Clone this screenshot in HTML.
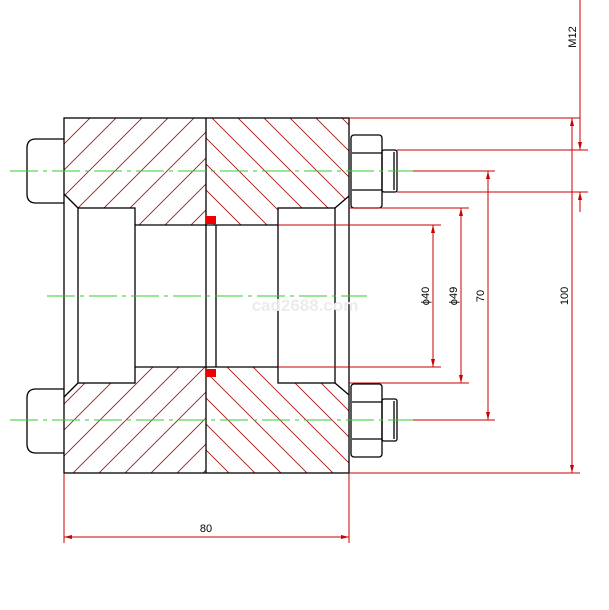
<!DOCTYPE html>
<html><head><style>html,body{margin:0;padding:0;background:#fff}svg{display:block}</style></head><body>
<svg width="609" height="610" viewBox="0 0 609 610" xmlns="http://www.w3.org/2000/svg" font-family="Liberation Sans, sans-serif">
<defs>
<clipPath id="cl"><polygon points="64,118 206,118 206,225 135,225 135,208 78,208 64,194"/><polygon points="64,473 206,473 206,367 135,367 135,383 78,383 64,397"/></clipPath>
<clipPath id="cr"><polygon points="206,118 349,118 349,196 335,208 278,208 278,225 206,225"/><polygon points="206,473 349,473 349,395 335,383 278,383 278,367 206,367"/></clipPath>
</defs>
<g clip-path="url(#cl)" stroke="#a01818" stroke-width="0.9">
<script>/* none */</script>
<line x1="-418" y1="600" x2="182" y2="0"/><line x1="-392" y1="600" x2="208" y2="0"/><line x1="-366" y1="600" x2="234" y2="0"/><line x1="-340" y1="600" x2="260" y2="0"/><line x1="-314" y1="600" x2="286" y2="0"/><line x1="-288" y1="600" x2="312" y2="0"/><line x1="-262" y1="600" x2="338" y2="0"/><line x1="-236" y1="600" x2="364" y2="0"/><line x1="-210" y1="600" x2="390" y2="0"/><line x1="-184" y1="600" x2="416" y2="0"/><line x1="-158" y1="600" x2="442" y2="0"/><line x1="-132" y1="600" x2="468" y2="0"/><line x1="-106" y1="600" x2="494" y2="0"/><line x1="-80" y1="600" x2="520" y2="0"/><line x1="-54" y1="600" x2="546" y2="0"/><line x1="-28" y1="600" x2="572" y2="0"/><line x1="-2" y1="600" x2="598" y2="0"/><line x1="24" y1="600" x2="624" y2="0"/><line x1="50" y1="600" x2="650" y2="0"/><line x1="76" y1="600" x2="676" y2="0"/><line x1="102" y1="600" x2="702" y2="0"/><line x1="128" y1="600" x2="728" y2="0"/><line x1="154" y1="600" x2="754" y2="0"/><line x1="180" y1="600" x2="780" y2="0"/>
</g>
<g clip-path="url(#cr)" stroke="#a01818" stroke-width="0.9">
<line x1="-400" y1="0" x2="200" y2="600"/><line x1="-374" y1="0" x2="226" y2="600"/><line x1="-348" y1="0" x2="252" y2="600"/><line x1="-322" y1="0" x2="278" y2="600"/><line x1="-296" y1="0" x2="304" y2="600"/><line x1="-270" y1="0" x2="330" y2="600"/><line x1="-244" y1="0" x2="356" y2="600"/><line x1="-218" y1="0" x2="382" y2="600"/><line x1="-192" y1="0" x2="408" y2="600"/><line x1="-166" y1="0" x2="434" y2="600"/><line x1="-140" y1="0" x2="460" y2="600"/><line x1="-114" y1="0" x2="486" y2="600"/><line x1="-88" y1="0" x2="512" y2="600"/><line x1="-62" y1="0" x2="538" y2="600"/><line x1="-36" y1="0" x2="564" y2="600"/><line x1="-10" y1="0" x2="590" y2="600"/><line x1="16" y1="0" x2="616" y2="600"/><line x1="42" y1="0" x2="642" y2="600"/><line x1="68" y1="0" x2="668" y2="600"/><line x1="94" y1="0" x2="694" y2="600"/><line x1="120" y1="0" x2="720" y2="600"/><line x1="146" y1="0" x2="746" y2="600"/><line x1="172" y1="0" x2="772" y2="600"/><line x1="198" y1="0" x2="798" y2="600"/><line x1="224" y1="0" x2="824" y2="600"/><line x1="250" y1="0" x2="850" y2="600"/><line x1="276" y1="0" x2="876" y2="600"/><line x1="302" y1="0" x2="902" y2="600"/><line x1="328" y1="0" x2="928" y2="600"/>
</g>
<g stroke="#000" stroke-width="1.3" fill="none">
<rect x="64" y="118" width="285" height="355"/>
<line x1="206" y1="118" x2="206" y2="473"/>
<line x1="216" y1="225" x2="216" y2="367"/>
<rect x="78" y="208" width="57" height="175"/>
<rect x="278" y="208" width="57" height="175"/>
<line x1="135" y1="225" x2="278" y2="225"/>
<line x1="135" y1="367" x2="278" y2="367"/>
<line x1="64" y1="194" x2="78" y2="208"/>
<line x1="64" y1="397" x2="78" y2="383"/>
<line x1="349" y1="196" x2="335" y2="208"/>
<line x1="349" y1="395" x2="335" y2="383"/>
<path d="M64,139 H36 Q27,139 27,148 V194 Q27,203 36,203 H64"/>
<path d="M64,389 H36 Q27,389 27,398 V444 Q27,453 36,453 H64"/>
<rect x="351" y="135" width="31" height="73" rx="3"/>
<line x1="352" y1="153" x2="382" y2="153"/><line x1="352" y1="190" x2="382" y2="190"/>
<rect x="382" y="150" width="15" height="42" rx="2"/><line x1="394" y1="152" x2="394" y2="190"/>
<rect x="351" y="384" width="31" height="73" rx="3"/>
<line x1="352" y1="402" x2="382" y2="402"/><line x1="352" y1="439" x2="382" y2="439"/>
<rect x="382" y="399" width="15" height="42" rx="2"/><line x1="394" y1="401" x2="394" y2="439"/>
</g>
<rect x="206" y="216" width="10" height="8" fill="#e00"/>
<rect x="206" y="369" width="10" height="8" fill="#e00"/>
<g stroke="#3c3" stroke-width="1" stroke-dasharray="28,5,4,5">
<line x1="10" y1="171" x2="413" y2="171"/>
<line x1="47" y1="296" x2="367" y2="296"/>
<line x1="10" y1="420" x2="413" y2="420"/>
</g>
<text x="305" y="311" font-size="17" font-weight="bold" fill="#ececec" text-anchor="middle">cad2688.com</text>
<g stroke="#c00" stroke-width="1" fill="none">
<line x1="349" y1="118" x2="580" y2="118"/>
<line x1="397" y1="150" x2="588" y2="150"/>
<line x1="397" y1="192" x2="588" y2="192"/>
<line x1="413" y1="171" x2="495" y2="171"/>
<line x1="349" y1="208" x2="469" y2="208"/>
<line x1="278" y1="225" x2="441" y2="225"/>
<line x1="278" y1="367" x2="441" y2="367"/>
<line x1="349" y1="383" x2="469" y2="383"/>
<line x1="413" y1="420" x2="495" y2="420"/>
<line x1="349" y1="473" x2="580" y2="473"/>
<line x1="433" y1="225" x2="433" y2="367"/>
<line x1="461" y1="208" x2="461" y2="383"/>
<line x1="488" y1="171" x2="488" y2="420"/>
<line x1="572" y1="118" x2="572" y2="473"/>
<line x1="580" y1="0" x2="580" y2="150"/>
<line x1="580" y1="192" x2="580" y2="212"/>
<line x1="64" y1="473" x2="64" y2="543"/>
<line x1="349" y1="473" x2="349" y2="543"/>
<line x1="64" y1="537" x2="349" y2="537"/>
</g>
<g fill="#c00">
<path d="M433,225 l-2,8 h4z"/><path d="M433,367 l-2,-8 h4z"/>
<path d="M461,208 l-2,8 h4z"/><path d="M461,383 l-2,-8 h4z"/>
<path d="M488,171 l-2,8 h4z"/><path d="M488,420 l-2,-8 h4z"/>
<path d="M572,118 l-2,8 h4z"/><path d="M572,473 l-2,-8 h4z"/>
<path d="M580,150 l-2,-8 h4z"/><path d="M580,192 l-2,8 h4z"/>
<path d="M64,537 l8,-2 v4z"/><path d="M349,537 l-8,-2 v4z"/>
</g>
<g font-size="11" fill="#000" text-anchor="middle">
<text transform="translate(429,296) rotate(-90)">ϕ40</text>
<text transform="translate(457,296) rotate(-90)">ϕ49</text>
<text transform="translate(484,296) rotate(-90)">70</text>
<text transform="translate(568,296) rotate(-90)">100</text>
<text transform="translate(576,37) rotate(-90)">M12</text>
<text x="206" y="532">80</text>
</g>
</svg>
</body></html>
